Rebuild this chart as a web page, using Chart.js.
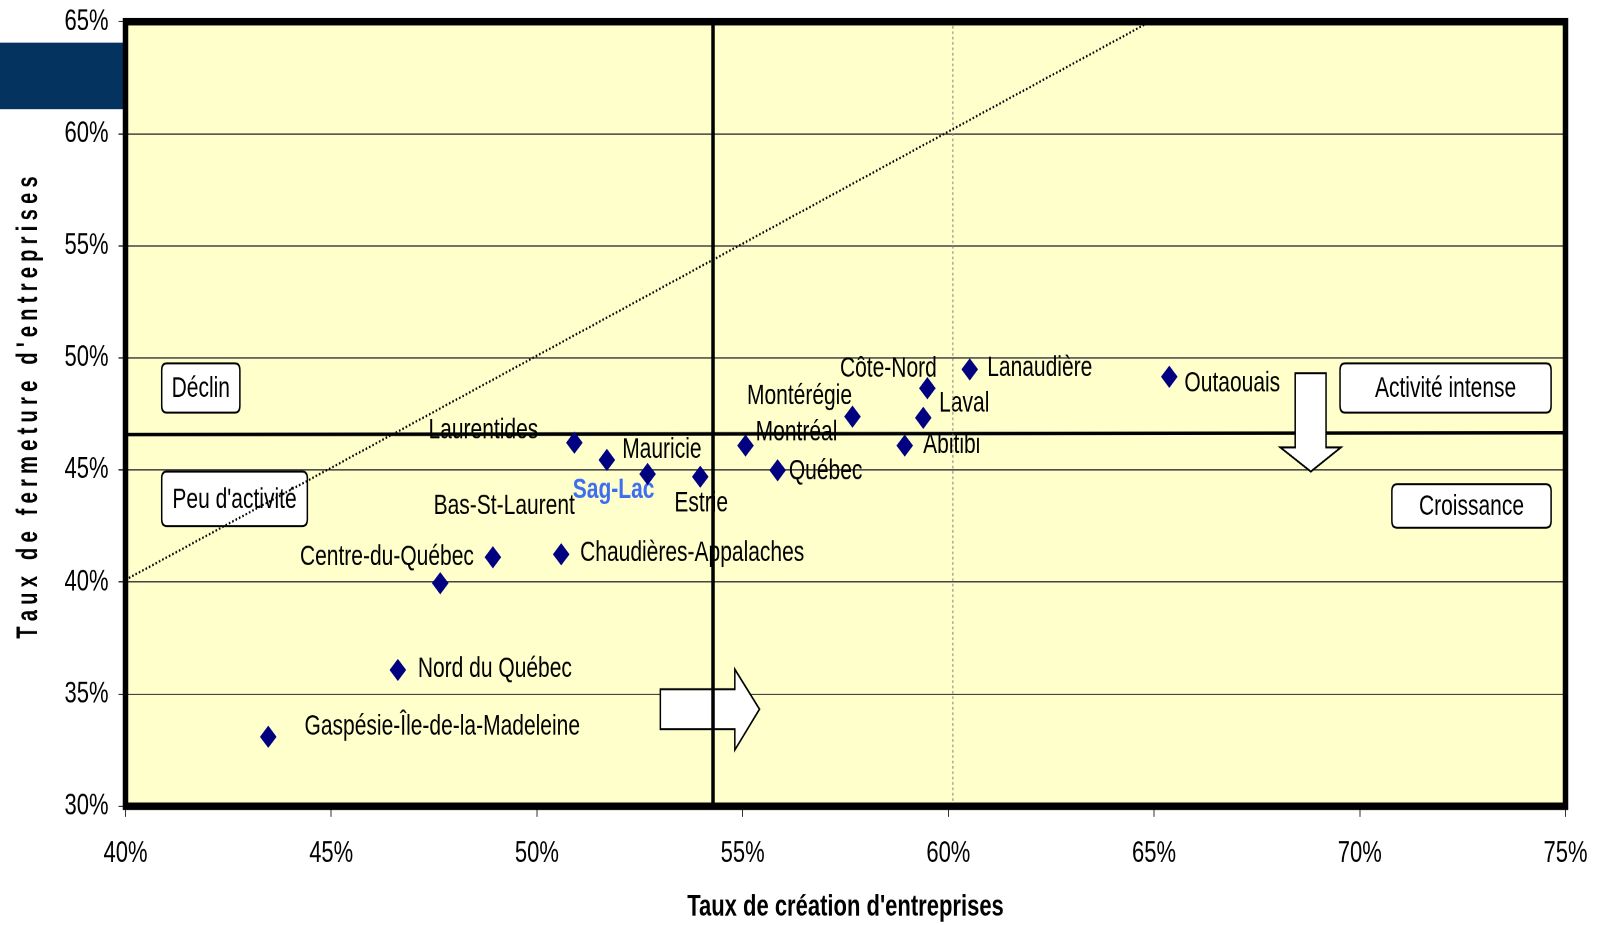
<!DOCTYPE html>
<html><head><meta charset="utf-8">
<script src="https://cdn.jsdelivr.net/npm/chart.js@4.4.1/dist/chart.umd.min.js"></script>
<style>
html,body{margin:0;padding:0;background:#fff;}
body{width:1604px;height:925px;position:relative;}
#wrap{position:absolute;left:0;top:0;width:1604px;height:690px;transform:scaleY(1.34058);transform-origin:0 0;}
canvas{display:block;}
</style></head><body>
<div id="wrap"><canvas id="c" width="1604" height="690"></canvas></div>
<script>
// ---------- data ----------
const regions = ["Gaspésie-Île-de-la-Madeleine","Nord du Québec","Centre-du-Québec","Bas-St-Laurent",
  "Chaudières-Appalaches","Laurentides","Mauricie","Sag-Lac","Estrie","Montréal","Québec",
  "Montérégie","Côte-Nord","Laval","Abitibi","Lanaudière","Outaouais"];
const creationRate = [43.47,46.62,48.93,47.65,50.59,50.91,51.70,52.69,53.97,55.07,55.85,57.67,59.49,59.39,58.94,60.52,65.37];
const closureRate  = [33.10,36.08,41.11,39.95,41.24,46.22,45.45,44.82,44.70,46.09,44.99,47.38,48.65,47.33,46.09,49.49,49.16];
const xTickValues = [40,45,50,55,60,65,70,75];
const xTickLabels = ["40%","45%","50%","55%","60%","65%","70%","75%"];
const yTickValues = [30,35,40,45,50,55,60,65];
const yTickLabels = ["30%","35%","40%","45%","50%","55%","60%","65%"];
const xTitle = "Taux de création d'entreprises";
const yTitle = "Taux de fermeture d'entreprises";
// reference lines (values)
const avgCreation = 54.28;
const avgClosure = [46.58, 46.66];     // at x = 40 and x = 75
const secondaryCreation = 60.11;
const diagonalX = [40, 64.9];
const diagonalY = [40.1, 65];
const quadrantNames = ["Déclin","Peu d'activité","Activité intense","Croissance"];

// ---------- presentation config (not data) ----------
const labelOffsets = [[174,-7.5],[97,-0.7],[-106,0],[64,-57.4],[131,-0.7],[-91,-9],[55,-7.5],[-34,12],[1,20],
  [51,-9.7],[48,0.7],[-53,-15],[-39,-14.2],[41,-10.4],[47,0],[70,-0.7],[63,5.2]];
const highlightIndex = 7;
const quadrantBoxes = [[40.88,42.78,49.76,47.56],[40.88,44.42,44.93,42.50],[69.52,74.65,49.76,47.56],[70.78,74.65,44.36,42.43]];
const downArrow = [[68.43,49.32],[69.18,49.32],[69.18,46.01],[69.54,46.01],[68.81,44.93],[68.07,46.01],[68.43,46.01]];
const rightArrow = [[53.00,35.22],[54.81,35.22],[54.81,36.11],[55.41,34.33],[54.81,32.51],[54.81,33.44],[53.00,33.44]];

const FONT = "'Liberation Sans', Arial, Helvetica, sans-serif";
Chart.defaults.font.family = FONT;
Chart.defaults.color = '#000';

function roundRect(ctx, x, y, w, h, r) {
  ctx.beginPath();
  ctx.moveTo(x + r, y);
  ctx.lineTo(x + w - r, y); ctx.quadraticCurveTo(x + w, y, x + w, y + r);
  ctx.lineTo(x + w, y + h - r); ctx.quadraticCurveTo(x + w, y + h, x + w - r, y + h);
  ctx.lineTo(x + r, y + h); ctx.quadraticCurveTo(x, y + h, x, y + h - r);
  ctx.lineTo(x, y + r); ctx.quadraticCurveTo(x, y, x + r, y);
  ctx.closePath();
}

const bgPlugin = {
  id: 'bg',
  beforeDraw(chart) {
    const {ctx, chartArea: a} = chart;
    ctx.save();
    ctx.fillStyle = '#fff';
    ctx.fillRect(0, 0, chart.width, chart.height);
    ctx.fillStyle = '#05335f';
    ctx.fillRect(0, 31.8, a.left, 49.7);
    ctx.fillStyle = '#FFFFCC';
    ctx.fillRect(a.left, a.top, a.right - a.left, a.bottom - a.top);
    ctx.restore();
  }
};

const overlayPlugin = {
  id: 'overlay',
  afterDatasetDraw(chart, args) {
    if (args.index !== 4) return;
    const {ctx} = chart;
    const xs = chart.scales.x, ys = chart.scales.y;
    const px = v => xs.getPixelForValue(v), py = v => ys.getPixelForValue(v);
    ctx.save();
    ctx.font = '21px ' + FONT;
    ctx.textAlign = 'center'; ctx.textBaseline = 'middle';
    quadrantBoxes.forEach((b, i) => {
      const x1 = px(b[0]), x2 = px(b[1]), y1 = py(b[2]), y2 = py(b[3]);
      roundRect(ctx, x1, y1, x2 - x1, y2 - y1, 5);
      ctx.fillStyle = '#fff'; ctx.fill();
      ctx.lineWidth = 1.5; ctx.strokeStyle = '#000'; ctx.stroke();
      ctx.fillStyle = '#000';
      ctx.fillText(quadrantNames[i], (x1 + x2) / 2, (y1 + y2) / 2 + 1);
    });
    [downArrow, rightArrow].forEach(poly => {
      ctx.beginPath();
      poly.forEach((p, k) => { const X = px(p[0]), Y = py(p[1]); if (k) ctx.lineTo(X, Y); else ctx.moveTo(X, Y); });
      ctx.closePath();
      ctx.fillStyle = '#fff'; ctx.fill();
      ctx.lineWidth = 1.5; ctx.strokeStyle = '#000'; ctx.stroke();
    });
    const meta = chart.getDatasetMeta(0);
    meta.data.forEach((pt, i) => {
      const o = labelOffsets[i];
      if (i === highlightIndex) { ctx.font = 'bold 21px ' + FONT; ctx.fillStyle = '#3D6DF2'; }
      else { ctx.font = '21px ' + FONT; ctx.fillStyle = '#000'; }
      ctx.fillText(regions[i], pt.x + o[0], pt.y + o[1]);
    });
    ctx.restore();
  }
};

const framePlugin = {
  id: 'frame',
  afterDraw(chart) {
    const {ctx, chartArea: a} = chart;
    ctx.save();
    ctx.lineWidth = 5.5; ctx.strokeStyle = '#000';
    ctx.strokeRect(a.left, a.top, a.right - a.left, a.bottom - a.top);
    ctx.font = 'bold 30px ' + FONT;
    ctx.fillStyle = '#000';
    ctx.textBaseline = 'alphabetic'; ctx.textAlign = 'left';
    const kx = 0.5, spacing = 3.9;
    const chars = [...yTitle];
    const widths = chars.map(ch => ctx.measureText(ch).width * kx);
    const total = widths.reduce((s, w) => s + w, 0) + spacing * (chars.length - 1);
    ctx.translate(37, 304);
    ctx.rotate(-Math.PI / 2);
    let pos = -total / 2;
    chars.forEach((ch, i) => {
      ctx.save(); ctx.translate(pos, 0); ctx.scale(kx, 1); ctx.fillText(ch, 0, 0); ctx.restore();
      pos += widths[i] + spacing;
    });
    ctx.restore();
  }
};

const lineDs = (data, width, color, dash) => ({
  data, showLine: true, borderColor: color, borderWidth: width, borderDash: dash,
  pointRadius: 0, pointHoverRadius: 0, fill: false, backgroundColor: color
});

new Chart(document.getElementById('c'), {
  type: 'scatter',
  data: {
    datasets: [
      { data: regions.map((r, i) => ({x: creationRate[i], y: closureRate[i]})),
        pointStyle: 'rectRot', pointRadius: 8.3, pointHoverRadius: 8.3,
        backgroundColor: '#000080', borderColor: '#000080', borderWidth: 0 },
      lineDs([{x: avgCreation, y: 30}, {x: avgCreation, y: 65}], 3.5, '#000', []),
      lineDs([{x: diagonalX[0], y: diagonalY[0]}, {x: diagonalX[1], y: diagonalY[1]}], 1.7, '#000', [1.6, 2.0]),
      lineDs([{x: secondaryCreation, y: 30}, {x: secondaryCreation, y: 65}], 1, '#808080', [2, 2]),
      lineDs([{x: 40, y: avgClosure[0]}, {x: 75, y: avgClosure[1]}], 2.6, '#000', [])
    ]
  },
  options: {
    responsive: false, animation: false, devicePixelRatio: 2,
    layout: { padding: { left: 0, right: 38.5, top: 16.2, bottom: 0 } },
    plugins: { legend: { display: false }, tooltip: { enabled: false } },
    scales: {
      x: {
        type: 'linear', min: 40, max: 75,
        afterBuildTicks: s => { s.ticks = xTickValues.map(v => ({value: v})); },
        afterFit: s => { s.height = 88.6; s.paddingLeft = 0; s.paddingRight = 0; },
        ticks: { callback: v => xTickLabels[xTickValues.indexOf(v)], font: { size: 22 }, color: '#000', padding: 14.3, maxRotation: 0, autoSkip: false },
        grid: { drawOnChartArea: false, drawTicks: true, tickLength: 8, tickColor: '#333', tickWidth: 1 },
        border: { display: false },
        title: { display: true, text: xTitle, font: { size: 22, weight: 'bold' }, color: '#000', padding: { top: 0, bottom: 0 } }
      },
      y: {
        type: 'linear', min: 30, max: 65,
        afterBuildTicks: s => { s.ticks = yTickValues.map(v => ({value: v})); },
        afterFit: s => { s.width = 125.5; s.paddingTop = 0; s.paddingBottom = 0; },
        ticks: { callback: v => yTickLabels[yTickValues.indexOf(v)], font: { size: 22 }, color: '#000', padding: 10, autoSkip: false },
        grid: { color: '#444', lineWidth: 1, drawTicks: true, tickLength: 7, tickColor: '#333' },
        border: { display: false }
      }
    }
  },
  plugins: [bgPlugin, overlayPlugin, framePlugin]
});
</script>
</body></html>
